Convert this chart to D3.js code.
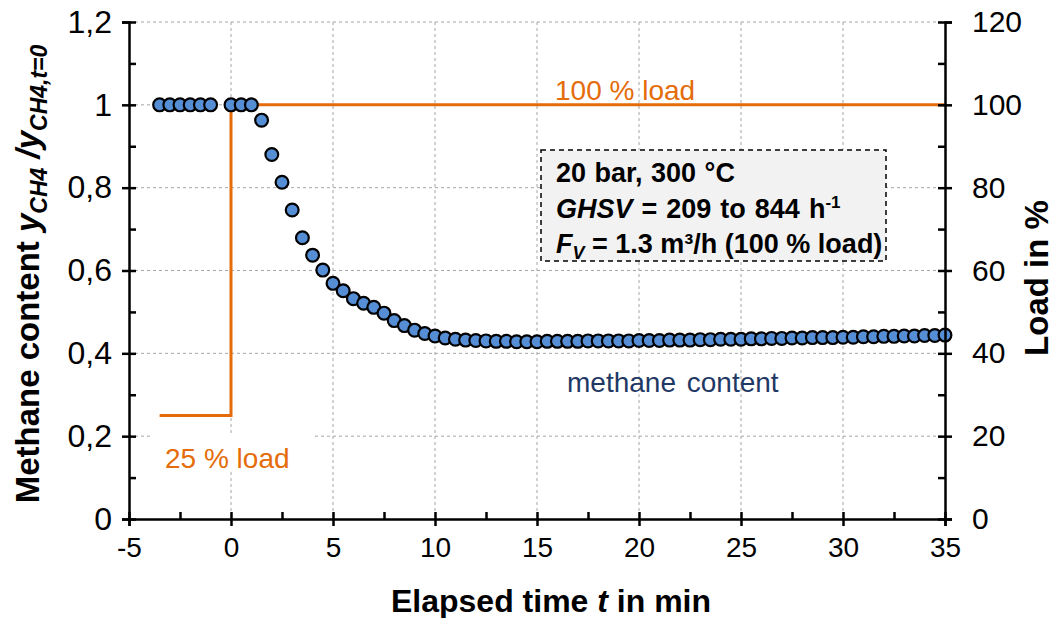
<!DOCTYPE html>
<html><head><meta charset="utf-8">
<script src="https://cdn.jsdelivr.net/npm/d3@7"></script>
<style>
body{margin:0;background:#fff;}
text{font-family:"Liberation Sans",Arial,sans-serif;}
</style></head><body>
<svg id="chart" width="1056" height="618"></svg>
<script>
// ---------- data ----------
const timeMin = [-3.5,-3,-2.5,-2,-1.5,-1,
  0,0.5,1,1.5,2,2.5,3,3.5,4,4.5,5,5.5,6,6.5,7,7.5,8,8.5,9,9.5,
  10,10.5,11,11.5,12,12.5,13,13.5,14,14.5,15,15.5,16,16.5,17,17.5,18,18.5,19,19.5,
  20,20.5,21,21.5,22,22.5,23,23.5,24,24.5,25,25.5,26,26.5,27,27.5,28,28.5,29,29.5,
  30,30.5,31,31.5,32,32.5,33,33.5,34,34.5,35];
const methaneContent = [1,1,1,1,1,1,
  1,1,1,0.963,0.880,0.813,0.746,0.679,0.637,0.601,0.569,0.551,0.532,0.521,0.511,0.497,0.479,0.467,0.456,0.448,
  0.442,0.437,0.434,0.432,0.431,0.430,0.429,0.429,0.428,0.428,0.428,0.429,0.429,0.429,0.429,0.430,0.430,0.430,0.430,0.430,
  0.431,0.431,0.431,0.432,0.432,0.432,0.433,0.433,0.434,0.434,0.434,0.435,0.435,0.436,0.436,0.437,0.437,0.438,0.438,0.438,
  0.439,0.439,0.440,0.440,0.441,0.441,0.442,0.442,0.443,0.443,0.444];
const loadTime = [-3.5, 0, 0, 35];
const loadPercent = [25, 25, 100, 100];

const xTicks = [-5,0,5,10,15,20,25,30,35];
const xTickLabels = ["-5","0","5","10","15","20","25","30","35"];
const xMinorTicks = [-2.5,2.5,7.5,12.5,17.5,22.5,27.5,32.5];
const yLeftTicks = [0,0.2,0.4,0.6,0.8,1,1.2];
const yLeftTickLabels = ["0","0,2","0,4","0,6","0,8","1","1,2"];
const yLeftMinorTicks = [0.1,0.3,0.5,0.7,0.9,1.1];
const yRightTicks = [0,20,40,60,80,100,120];
const yRightMinorTicks = [10,30,50,70,90,110];

const xTitle = "Elapsed time ";
const rightTitle = "Load in %";
const label100 = "100 % load";
const label25 = "25 % load";
const labelMethane = "methane content";

// ---------- layout ----------
const L = 129, R = 945, T = 22, B = 519;
const ORANGE = "#E46C0A", BLUE = "#558ED5", GRID = "#a6a6a6";

const svg = d3.select("#chart");
const x = d3.scaleLinear().domain([-5,35]).range([L,R]);
const yL = d3.scaleLinear().domain([0,1.2]).range([B,T]);
const yR = d3.scaleLinear().domain([0,120]).range([B,T]);

// gridlines
const grid = svg.append("g");
grid.selectAll(".vg").data(xTicks.filter(d=>d>-5 && d<35)).join("line")
  .attr("x1",d=>x(d)).attr("x2",d=>x(d)).attr("y1",T).attr("y2",B)
  .attr("stroke",GRID).attr("stroke-width",1).attr("stroke-dasharray","3,3");
grid.selectAll(".hg").data(yLeftTicks.filter(d=>d>0)).join("line")
  .attr("x1",L).attr("x2",R).attr("y1",d=>yL(d)).attr("y2",d=>yL(d))
  .attr("stroke",GRID).attr("stroke-width",1).attr("stroke-dasharray","3,3");

// labels
svg.append("rect").attr("x",152).attr("y",433).attr("width",161).attr("height",36).attr("fill","#fff");
svg.append("text").attr("x",165).attr("y",468).attr("font-size",28).attr("fill",ORANGE).text(label25);
svg.append("text").attr("x",555).attr("y",100).attr("font-size",28).attr("fill",ORANGE)
  .attr("xml:space","preserve").text(label100);
svg.append("text").attr("x",567).attr("y",392).attr("font-size",28).attr("fill","#1F3864")
  .attr("word-spacing",3).text(labelMethane);

// annotation box
svg.append("rect").attr("x",541).attr("y",150).attr("width",345).attr("height",111)
  .attr("fill","#f2f2f2").attr("stroke","#000").attr("stroke-width",1.5).attr("stroke-dasharray","5,4");
const ann = svg.append("g").attr("font-size",27).attr("font-weight","bold").attr("fill","#000");
ann.append("text").attr("x",556).attr("y",182).attr("word-spacing",1).text("20 bar, 300 °C");
const a2 = ann.append("text").attr("x",556).attr("y",218).attr("word-spacing",1.5);
a2.append("tspan").attr("font-style","italic").text("GHSV");
a2.append("tspan").text(" = 209 to 844 h");
a2.append("tspan").attr("font-size",17).attr("dy",-10).text("-1");
const a3 = ann.append("text").attr("x",556).attr("y",253);
a3.append("tspan").attr("font-style","italic").text("F");
a3.append("tspan").attr("font-style","italic").attr("font-size",18).attr("dy",6).text("V");
a3.append("tspan").attr("dy",-6).text(" = 1.3 m³/h (100 % load)");

// load line
const line = d3.line().x(d=>x(d[0])).y(d=>yR(d[1])).curve(d3.curveLinear);
svg.append("path").datum(loadTime.map((t,i)=>[t,loadPercent[i]]))
  .attr("d",line).attr("fill","none").attr("stroke",ORANGE).attr("stroke-width",3);

// methane points
svg.append("g").selectAll("circle").data(timeMin.map((t,i)=>[t,methaneContent[i]])).join("circle")
  .attr("cx",d=>x(d[0])).attr("cy",d=>yL(d[1])).attr("r",6.4)
  .attr("fill",BLUE).attr("stroke","#000").attr("stroke-width",2.2);

// axes
function styleAxis(g, fs){
  g.select(".domain").attr("stroke","#000").attr("stroke-width",2.5);
  g.selectAll(".tick line").attr("stroke","#000").attr("stroke-width",2.5);
  g.selectAll(".tick text").attr("font-size",fs).attr("fill","#000")
    .attr("font-family","'Liberation Sans',Arial,sans-serif");
}
const gx = svg.append("g").attr("transform",`translate(0,${B})`)
  .call(d3.axisBottom(x).tickValues(xTicks).tickSize(7).tickPadding(11).tickFormat((d,i)=>xTickLabels[i]));
styleAxis(gx, 28);
gx.selectAll(".tick line").attr("y1",-7).attr("y2",7);
const gxm = svg.append("g").attr("transform",`translate(0,${B})`)
  .call(d3.axisBottom(x).tickValues(xMinorTicks).tickSize(-7).tickFormat(""));
gxm.select(".domain").remove();
gxm.selectAll(".tick line").attr("stroke","#000").attr("stroke-width",2.5);

const gyl = svg.append("g").attr("transform",`translate(${L},0)`)
  .call(d3.axisLeft(yL).tickValues(yLeftTicks).tickSize(7).tickPadding(10)
    .tickFormat((d,i)=>yLeftTickLabels[i]));
styleAxis(gyl, 32);
gyl.selectAll(".tick line").attr("x1",-7).attr("x2",7);
const gylm = svg.append("g").attr("transform",`translate(${L},0)`)
  .call(d3.axisLeft(yL).tickValues(yLeftMinorTicks).tickSize(-7).tickFormat(""));
gylm.select(".domain").remove();
gylm.selectAll(".tick line").attr("stroke","#000").attr("stroke-width",2.5);

const gyr = svg.append("g").attr("transform",`translate(${R},0)`)
  .call(d3.axisRight(yR).tickValues(yRightTicks).tickSize(7).tickPadding(20).tickFormat(d=>String(d)));
styleAxis(gyr, 30);
gyr.selectAll(".tick line").attr("x1",-7).attr("x2",7);
const gyrm = svg.append("g").attr("transform",`translate(${R},0)`)
  .call(d3.axisRight(yR).tickValues(yRightMinorTicks).tickSize(-7).tickFormat(""));
gyrm.select(".domain").remove();
gyrm.selectAll(".tick line").attr("stroke","#000").attr("stroke-width",2.5);

// axis titles
const xt = svg.append("text").attr("x",551).attr("y",612).attr("text-anchor","middle")
  .attr("font-size",32).attr("font-weight","bold");
xt.append("tspan").text(xTitle);
xt.append("tspan").attr("font-style","italic").text("t");
xt.append("tspan").text(" in min");

svg.append("text").attr("transform","translate(1048,278) rotate(-90)").attr("text-anchor","middle")
  .attr("font-size",33).attr("font-weight","bold").text(rightTitle);

const lt = svg.append("text").attr("transform","translate(39,274) rotate(-90)").attr("text-anchor","middle")
  .attr("font-size",33).attr("font-weight","bold");
lt.append("tspan").text("Methane content ");
lt.append("tspan").attr("font-style","italic").text("y");
lt.append("tspan").attr("font-style","italic").attr("font-size",23).attr("dy",8).text("CH4");
lt.append("tspan").attr("font-style","italic").attr("dy",-8).text(" /y");
lt.append("tspan").attr("font-style","italic").attr("font-size",23).attr("dy",8).text("CH4,t=0");
</script>
</body></html>
